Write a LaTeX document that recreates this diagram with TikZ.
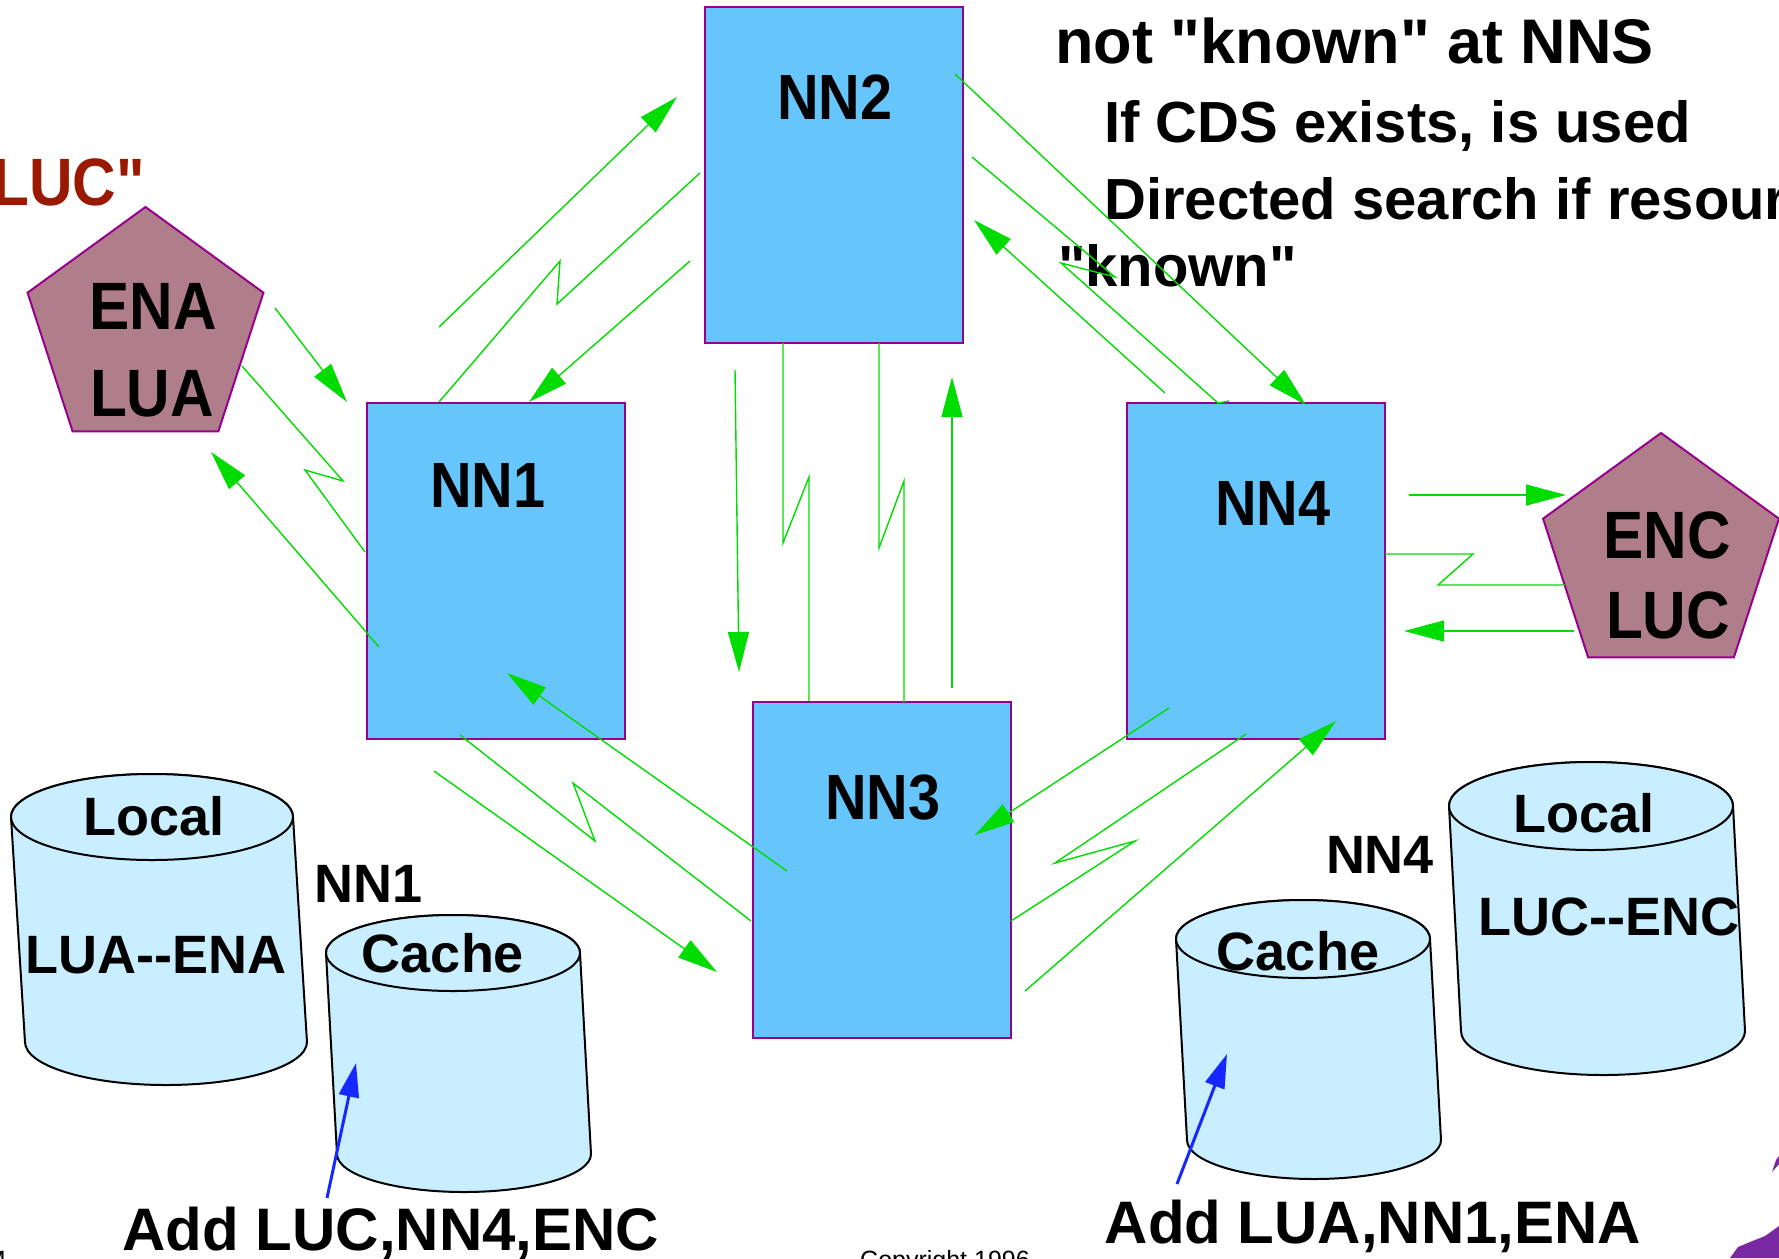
\documentclass[tikz,border=0pt]{standalone}
\usepackage{fontspec}
\setmainfont{Liberation Sans}[Ligatures=TeXOff]
\newfontfamily\narrowfont{Liberation Sans}[FakeStretch=0.9]
\usetikzlibrary{arrows.meta,shapes.geometric}
\definecolor{boxblue}{RGB}{102,198,252}
\definecolor{boxedge}{RGB}{150,0,140}
\definecolor{mauve}{RGB}{176,126,138}
\definecolor{dbfill}{RGB}{200,238,255}
\definecolor{msggreen}{RGB}{0,220,0}
\definecolor{addblue}{RGB}{20,40,255}
\definecolor{luctext}{RGB}{153,26,0}
\definecolor{logopurple}{RGB}{120,40,160}

\begin{document}
\begin{tikzpicture}
[x=1pt,y=-1pt,
nnbox/.style={rectangle,draw=boxedge,line width=2pt,fill=boxblue,minimum width=258pt,minimum height=336pt,inner sep=0pt},
penta/.style={regular polygon,regular polygon sides=5,minimum size=248pt,inner sep=0pt,draw=boxedge,line width=2pt,fill=mauve},
nnname/.style={anchor=base,inner sep=0pt,font=\narrowfont\bfseries\fontsize{64}{64}\selectfont},
pname/.style={anchor=base,inner sep=0pt,font=\narrowfont\bfseries\fontsize{67}{67}\selectfont},
dbtext/.style={anchor=base,inner sep=0pt,font=\bfseries\fontsize{54}{54}\selectfont},
addtext/.style={anchor=base,inner sep=0pt,font=\bfseries\fontsize{60}{60}\selectfont},
item/.style={anchor=base west,inner sep=0pt,font=\bfseries\fontsize{58}{58}\selectfont},
db/.style={draw=black,line width=2pt,fill=dbfill,line join=round},
msg/.style={draw=msggreen,line width=1.4pt,-{Triangle[length=40pt,width=21pt]}},
zig/.style={draw=msggreen,line width=1.4pt,line join=miter},
add/.style={draw=addblue,line width=3pt,-{Triangle[length=34pt,width=20pt]}}]
\useasboundingbox (0,0) rectangle (1779,1258);

% name servers and end nodes
\node[nnbox] (nn1) at (495.5,571) {};
\node[nnbox] (nn2) at (833.5,175) {};
\node[nnbox] (nn3) at (882,869.5) {};
\node[nnbox] (nn4) at (1256,571) {};
\node[penta] (ena) at (145.5,331) {};
\node[penta] (enc) at (1661,557) {};

\node[nnname] (nn1l) at (488,507) {NN1};
\node[nnname] (nn2l) at (835,119) {NN2};
\node[nnname] (nn3l) at (883,819) {NN3};
\node[nnname] (nn4l) at (1273,525) {NN4};
\node[pname] (enal) at (153,329) {ENA};
\node[pname] (lual) at (152,416) {LUA};
\node[pname] (encl) at (1667,558) {ENC};
\node[pname] (lucl) at (1668,638) {LUC};
\node[pname,text=luctext,anchor=base east] (lucq) at (145,205) {LUC"};

% slide text
\node[item,font=\bfseries\fontsize{63}{63}\selectfont] (t1) at (1055,63) {not "known" at NNS};
\node[item] (t2) at (1104,142) {If CDS exists, is used};
\node[item] (t3) at (1104,219) {Directed search if resource};
\node[item] (t4) at (1058,286) {"known"};

% directories
\foreach \cx/\cy/\rx/\ry/\dx/\h in {152/817/141/43/14/225, 453/953/127/38/11/201, 1303/939/127/39/11/201, 1591/806/142/44/12/225}
{
\filldraw[db] (\cx-\rx,\cy) -- (\cx-\rx+\dx,\cy+\h) arc[start angle=180,end angle=0,x radius=\rx,y radius=\ry] -- (\cx+\rx,\cy) arc[start angle=0,end angle=-180,x radius=\rx,y radius=\ry] -- cycle;
\draw[db] (\cx,\cy) ellipse[x radius=\rx,y radius=\ry];
}
\node[dbtext] (loc1) at (154,835) {Local};
\node[dbtext] (tab1) at (156,973) {LUA--ENA};
\node[dbtext] (own1) at (369,902) {NN1};
\node[dbtext] (cac1) at (443,972) {Cache};
\node[addtext] (add1) at (391,1250) {Add LUC,NN4,ENC};
\node[dbtext] (loc4) at (1584,832) {Local};
\node[dbtext] (tab4) at (1609,935) {LUC--ENC};
\node[dbtext] (own4) at (1380,873) {NN4};
\node[dbtext] (cac4) at (1298,970) {Cache};
\node[addtext] (add4) at (1373,1243) {Add LUA,NN1,ENA};

% message ends
\foreach \n/\x/\y in {m1s/439/327, m1e/677/97, m2s/690/261, m2e/529/402,
  m3s/275/308, m3e/347/402, m4s/379/647, m4e/211/452,
  m5s/735/370, m5e/739/672, m6s/952/688, m6e/952/377,
  m7s/955/74, m7e/1306/405, m8s/1165/393, m8e/974/220,
  m9s/1409/495, m9e/1566/495, m10s/1574/631, m10e/1404/631,
  m11s/787/871, m11e/507/673, m12s/434/771, m12e/717/972,
  m13s/1169/708, m13e/975/835, m14s/1025/991, m14e/1336/721,
  z1s/439/402, z1e/700/173, z2s/242/366, z2e/365/552,
  z3s/783/343, z3e/809/701, z4s/879/343, z4e/904/704,
  z5s/972/157, z5e/1218/403, z6s/1385/554, z6e/1565/585,
  z7s/460/735, z7e/751/921, z8s/1246/734, z8e/1011/921,
  c1s/327/1198, c1e/356/1063, c4s/1177/1184, c4e/1227/1054}
\coordinate (\n) at (\x,\y);

\foreach \from/\to in {m1s/m1e,m2s/m2e,m3s/m3e,m4s/m4e,m5s/m5e,m6s/m6e,m7s/m7e,m8s/m8e,m9s/m9e,m10s/m10e,m11s/m11e,m12s/m12e,m13s/m13e,m14s/m14e}
\draw[msg] (\from) -- (\to);

\draw[zig] (z1s) -- ++(121,-141) -- ++(-3,43) -- (z1e);
\draw[zig] (z2s) -- ++(101,115) -- ++(-38,-11) -- (z2e);
\draw[zig] (z3s) -- ++(0,200) -- ++(26,-66) -- (z3e);
\draw[zig] (z4s) -- ++(0,205) -- ++(25,-67) -- (z4e);
\draw[zig] (z5s) -- ++(143,120) -- ++(-54,-14) -- (z5e) -- ++(11,-2);
\draw[zig] (z6s) -- ++(88,0) -- ++(-35,31) -- (z6e);
\draw[zig] (z7s) -- ++(135,106) -- ++(-22,-58) -- (z7e);
\draw[zig] (z8s) -- ++(-191,129) -- ++(80,-22) -- (z8e);

\draw[add] (c1s) -- (c1e);
\draw[add] (c4s) -- (c4e);

% cut-off footer
\node[anchor=base west,inner sep=0pt,font=\fontsize{25}{25}\selectfont] (copy) at (860,1268) {Copyright 1996};
\node[anchor=base east,inner sep=0pt,font=\fontsize{25}{25}\selectfont] (ibm) at (6,1268) {M};
\fill[logopurple] (1730,1258) -- (1738,1247) -- (1750,1242) -- (1765,1236) -- (1779,1226) -- (1779,1258) -- cycle;
\fill[logopurple] (1772,1172) -- (1776,1160) -- (1779,1156) -- (1779,1164) -- cycle;
\end{tikzpicture}
\end{document}
